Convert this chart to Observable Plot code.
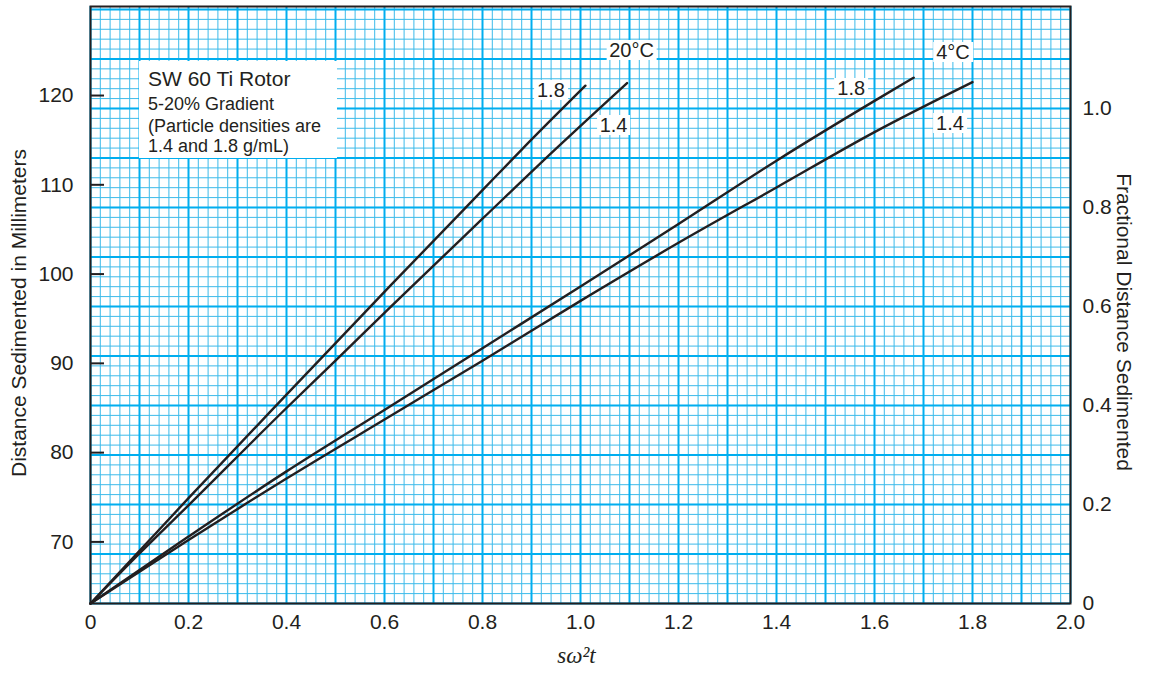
<!DOCTYPE html>
<html><head><meta charset="utf-8">
<script src="https://cdn.jsdelivr.net/npm/d3@7"></script>
<script src="https://cdn.jsdelivr.net/npm/@observablehq/plot@0.6"></script>
<style>
body{margin:0;background:#fff;font-family:"Liberation Sans",Arial,sans-serif;}
#wrap{position:relative;width:1157px;height:675px;}
.lbl{position:absolute;transform:translate(-50%,-50%);background:#fff;padding:0 3px;font-size:20px;line-height:20px;color:#231f20;white-space:nowrap;}
#legend{position:absolute;left:139px;top:61px;width:198px;height:97px;background:#fff;color:#231f20;}
#legend span{position:absolute;left:9px;line-height:1;white-space:nowrap;}
</style></head>
<body><div id="wrap"></div>
<script>
// ---- data ----
const rMinMm = 63.1;          // rotor r-min: fractional distance 0
const fullLengthMm = 55.45;   // mm corresponding to fractional distance 1.0

const c20_18_x  = [0, 0.1, 0.2, 0.4, 0.612, 0.8, 0.881, 1.01];
const c20_18_mm = [63.1, 69.0, 74.9, 86.5, 98.7, 109.4, 114.0, 121.1];
const c20_14_x  = [0, 0.1, 0.2, 0.4, 0.5, 0.612, 0.8, 0.949, 1.095];
const c20_14_mm = [63.1, 68.7, 74.1, 85.0, 90.3, 96.3, 106.2, 114.0, 121.4];
const c4_18_x   = [0, 0.2, 0.4, 0.612, 0.8, 1.0, 1.2, 1.4, 1.6, 1.68];
const c4_18_mm  = [63.1, 70.6, 77.9, 85.2, 91.7, 98.6, 105.6, 112.7, 119.4, 122.0];
const c4_14_x   = [0, 0.2, 0.4, 0.612, 0.8, 1.0, 1.2, 1.4, 1.6, 1.8];
const c4_14_mm  = [63.1, 70.2, 77.1, 84.1, 90.3, 97.0, 103.5, 109.7, 115.9, 121.5];

const curveNames = ["20°C 1.8", "20°C 1.4", "4°C 1.8", "4°C 1.4"];
const xTicks = [0, 0.2, 0.4, 0.6, 0.8, 1.0, 1.2, 1.4, 1.6, 1.8, 2.0];
const mmTicks = [70, 80, 90, 100, 110, 120];
const fracTicks = [0, 0.2, 0.4, 0.6, 0.8, 1.0];

// curve-end annotations: [text, curve index, dx px, dy px]
const curveLabels = [
  ["20°C", 1, 5, -33],
  ["1.8", 0, -34, 5],
  ["1.4", 1, -13, 42],
  ["4°C", 3, -19, -30],
  ["1.8", 2, -62, 11],
  ["1.4", 3, -22, 41]
];
const legendLines = ["SW 60 Ti Rotor", "5-20% Gradient", "(Particle densities are", "1.4 and 1.8 g/mL)"];

// ---- build ----
const toMm = f => rMinMm + f * fullLengthMm;
const toFrac = mm => (mm - rMinMm) / fullLengthMm;
const xs = [c20_18_x, c20_14_x, c4_18_x, c4_14_x];
const ys = [c20_18_mm, c20_14_mm, c4_18_mm, c4_14_mm];
const rows = [];
xs.forEach((arr, k) => arr.forEach((x, i) => rows.push({curve: curveNames[k], x, mm: ys[k][i]})));

const xMinor = d3.range(101).map(i => i / 50);
const xMajor = d3.range(21).map(i => i / 10);
const yMinor = d3.range(61).map(i => toMm(i / 50));
const yMajor = d3.range(13).map(i => toMm(i / 10));

const ink = "#231f20";
const chart = Plot.plot({
  width: 1157, height: 675,
  marginLeft: 90, marginRight: 87, marginTop: 6, marginBottom: 72,
  style: {fontFamily: "'Liberation Sans', Arial, sans-serif", fontSize: "21px", color: ink, background: "#fff"},
  x: {domain: [0, 2], axis: null},
  y: {domain: [rMinMm, toMm(1.206)], axis: null},
  marks: [
    Plot.ruleX(xMinor, {stroke: "#3cbbea", strokeWidth: 1}),
    Plot.ruleY(yMinor, {stroke: "#3cbbea", strokeWidth: 1}),
    Plot.ruleX(xMajor, {stroke: "#00aeef", strokeWidth: 2}),
    Plot.ruleY(yMajor, {stroke: "#00aeef", strokeWidth: 2}),
    Plot.line(rows, {x: "x", y: "mm", z: "curve", stroke: ink, strokeWidth: 2.4, curve: "monotone-x"}),
    Plot.frame({stroke: ink, strokeWidth: 2}),
    Plot.axisX(xTicks, {tickSize: 0, tickPadding: 11, fontSize: 21, label: null,
      tickFormat: d => d === 0 ? "0" : d.toFixed(1)}),
    Plot.axisY(mmTicks, {anchor: "left", tickSize: -14, tickPadding: 31, fontSize: 21, label: null, strokeWidth: 2}),
    Plot.axisY(fracTicks.map(toMm), {anchor: "right", tickSize: 0, tickPadding: 12, fontSize: 21, label: null,
      tickFormat: d => { const f = Math.round(toFrac(d) * 10) / 10; return f === 0 ? "0" : f.toFixed(1); }}),
    Plot.text(["Distance Sedimented in Millimeters"], {frameAnchor: "left", textAnchor: "middle", rotate: -90,
      dx: -71, dy: 8, fontSize: 21, fill: ink}),
    Plot.text(["Fractional Distance Sedimented"], {frameAnchor: "right", textAnchor: "middle", rotate: 90,
      dx: 53, dy: 17, fontSize: 21, fill: ink}),
    Plot.text(["sω²t"], {frameAnchor: "bottom", dx: -4, dy: 59, fontSize: 23, fontStyle: "italic",
      fontFamily: "'Liberation Serif', 'Times New Roman', serif", fill: ink})
  ]
});
const wrap = document.getElementById("wrap");
wrap.appendChild(chart);

// legend box
const leg = document.createElement("div");
leg.id = "legend";
const tops = [7, 34, 56, 76], sizes = [21, 18, 18, 18];
legendLines.forEach((t, i) => {
  const s = document.createElement("span");
  s.textContent = t; s.style.top = tops[i] + "px"; s.style.fontSize = sizes[i] + "px";
  leg.appendChild(s);
});
wrap.appendChild(leg);

// curve labels anchored to curve ends via the chart's scales
const sx = chart.scale("x"), sy = chart.scale("y");
curveLabels.forEach(([t, k, dx, dy]) => {
  const xe = xs[k][xs[k].length - 1], ye = ys[k][ys[k].length - 1];
  const px = sx.apply(xe), py = sy.apply(ye);
  const d = document.createElement("div");
  d.className = "lbl"; d.textContent = t;
  d.style.left = (px + dx) + "px"; d.style.top = (py + dy) + "px";
  wrap.appendChild(d);
});
</script></body></html>
